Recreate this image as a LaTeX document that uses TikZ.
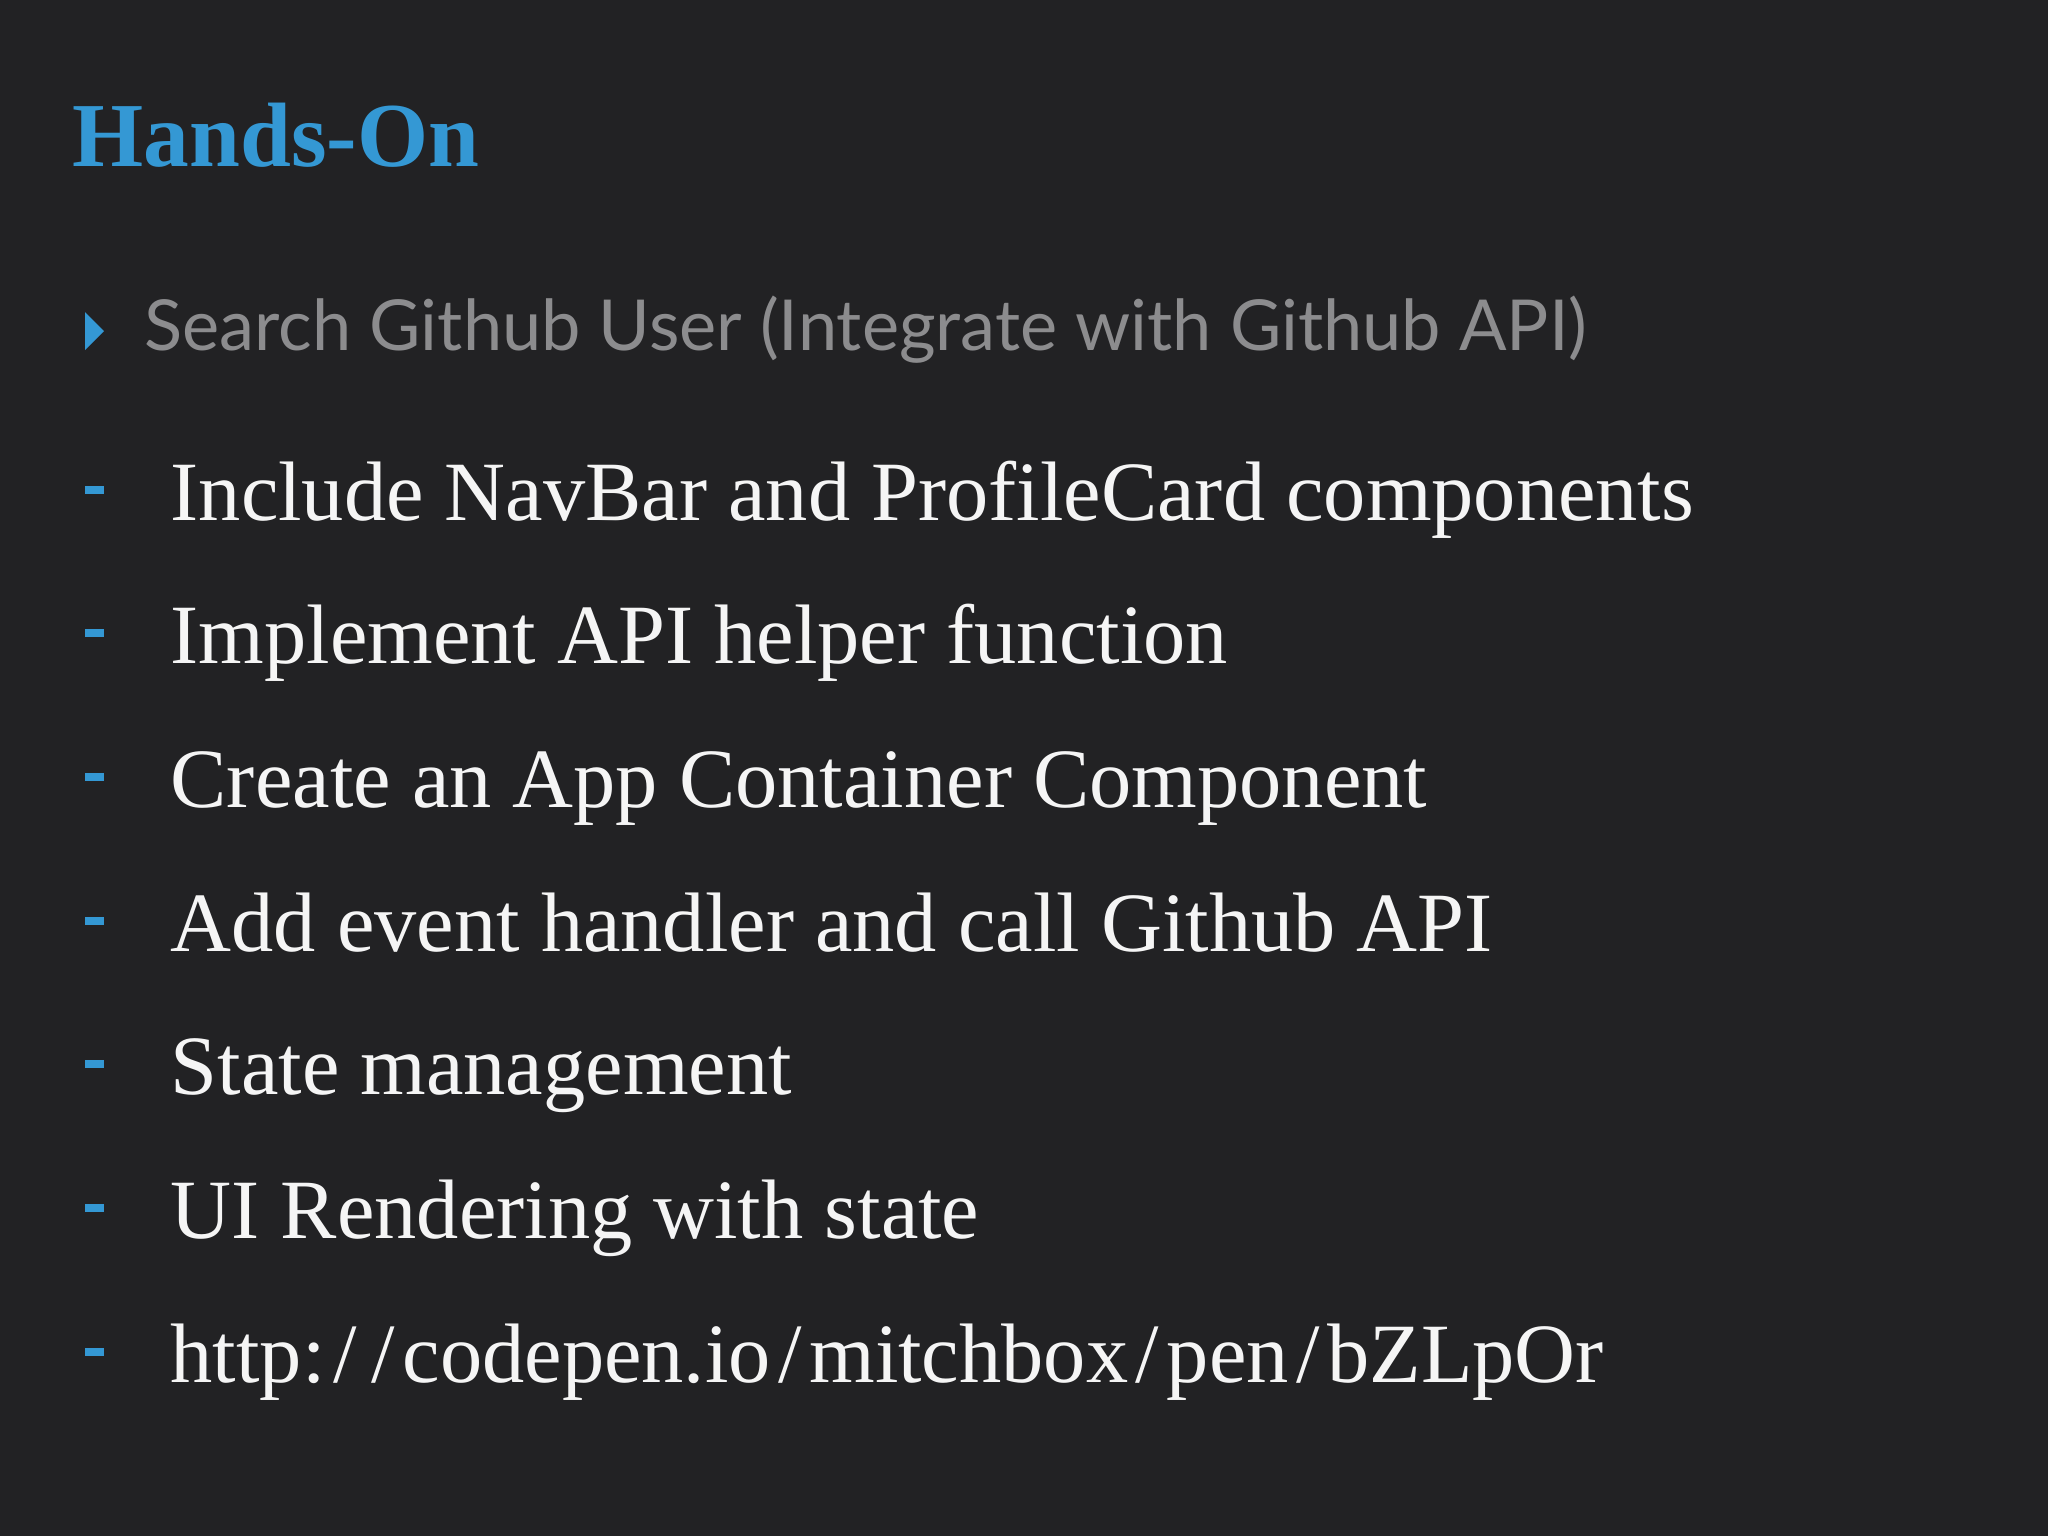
\documentclass[tikz,border=0pt]{standalone}
\usepackage{fontspec}
\setmainfont{Liberation Serif}
\newfontfamily\subfont{Lato}
\definecolor{bg}{RGB}{34,34,36}
\definecolor{accent}{RGB}{52,152,212}
\definecolor{subgray}{RGB}{140,140,142}
\definecolor{itemwhite}{RGB}{245,245,245}
\newcommand{\wsl}{\kern0.09em/\kern0.09em}
\begin{document}
\begin{tikzpicture}[x=0.01cm,y=-0.01cm,
  item/.style={anchor=base west,inner sep=0pt,text=itemwhite,font=\fontsize{24}{28}\selectfont},
  dashmark/.style={draw=accent,line width=2.2pt}]
\fill[bg] (0,0) rectangle (2048,1536);
\useasboundingbox (0,0) rectangle (2048,1536);
\node[anchor=base west,inner sep=0pt,text=accent,font=\fontsize{26}{29}\selectfont\bfseries] (title) at (72,166) {Hands-On};
\fill[accent] (85,312) -- (104,331) -- (85,350) -- cycle;
\node[anchor=base west,inner sep=0pt,text=subgray,font=\subfont\fontsize{20}{24}\selectfont] (sub) at (144,350) {Search Github User (Integrate with Github API)};
\foreach \y/\t [count=\i] in {520/{Include NavBar and ProfileCard components},
  663/{Implement API helper function},
  807/{Create an App Container Component},
  951/{Add event handler and call Github API},
  1094/{State management},
  1238/{UI Rendering with state},
  1382/{http:\wsl\wsl codepen.io\wsl mitchbox\wsl pen\wsl bZLpOr}}{
  \draw[dashmark] (85,\y-30) -- (104,\y-30);
  \node[item] (item\i) at (170,\y) {\t};
}
\end{tikzpicture}
\end{document}
